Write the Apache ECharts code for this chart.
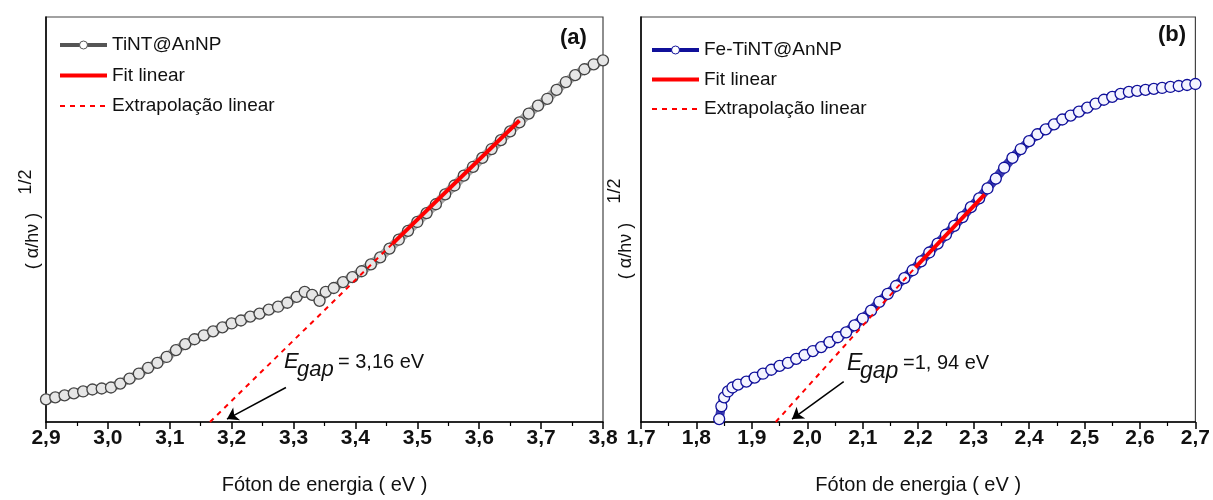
<!DOCTYPE html>
<html><head><meta charset="utf-8">
<script src="https://cdn.jsdelivr.net/npm/echarts@6/dist/echarts.min.js"></script>
<style>html,body{margin:0;padding:0;background:#fff}#c{width:1213px;height:500px}</style>
</head><body><div id="c"></div>
<script>
// ---- Panel (a): TiNT@AnNP ----
const energyA = [2.900,2.915,2.930,2.945,2.960,2.975,2.990,3.005,3.020,3.035,3.050,3.065,3.080,3.095,3.110,3.125,3.140,3.155,3.170,3.185,3.200,3.215,3.230,3.245,3.260,3.275,3.290,3.305,3.318,3.330,3.342,3.352,3.365,3.380,3.395,3.410,3.425,3.440,3.455,3.470,3.485,3.500,3.515,3.530,3.545,3.560,3.575,3.590,3.605,3.620,3.635,3.650,3.665,3.680,3.695,3.710,3.725,3.740,3.755,3.770,3.785,3.800];
const tauc_A = [0.23,0.25,0.27,0.29,0.31,0.33,0.34,0.35,0.39,0.44,0.49,0.55,0.60,0.66,0.73,0.79,0.84,0.88,0.92,0.96,1.00,1.03,1.07,1.10,1.14,1.17,1.21,1.27,1.32,1.29,1.23,1.32,1.36,1.42,1.47,1.53,1.60,1.67,1.76,1.85,1.94,2.03,2.12,2.21,2.31,2.40,2.50,2.59,2.68,2.77,2.86,2.95,3.04,3.13,3.21,3.28,3.37,3.45,3.52,3.58,3.63,3.67];
const fitA_x = [3.46, 3.665];
const fitA_y = [1.81, 3.06];
const extA_x = [3.165, 3.46];
const extA_y = [0.0, 1.81];
const ticksA = ['2,9','3,0','3,1','3,2','3,3','3,4','3,5','3,6','3,7','3,8'];

// ---- Panel (b): Fe-TiNT@AnNP ----
const energyB = [1.841,1.845,1.850,1.857,1.865,1.875,1.890,1.905,1.920,1.935,1.950,1.965,1.980,1.995,2.010,2.025,2.040,2.055,2.070,2.085,2.100,2.115,2.130,2.145,2.160,2.175,2.190,2.205,2.220,2.235,2.250,2.265,2.280,2.295,2.310,2.325,2.340,2.355,2.370,2.385,2.400,2.415,2.430,2.445,2.460,2.475,2.490,2.505,2.520,2.535,2.550,2.565,2.580,2.595,2.610,2.625,2.640,2.655,2.670,2.685,2.700];
const tauc_B = [0.03,0.16,0.25,0.31,0.35,0.38,0.41,0.45,0.49,0.53,0.57,0.60,0.64,0.68,0.72,0.76,0.81,0.86,0.91,0.98,1.05,1.13,1.22,1.30,1.38,1.46,1.54,1.63,1.72,1.81,1.90,1.99,2.08,2.18,2.27,2.37,2.47,2.58,2.68,2.77,2.85,2.92,2.97,3.02,3.07,3.11,3.15,3.19,3.23,3.27,3.30,3.33,3.35,3.36,3.37,3.38,3.39,3.40,3.41,3.42,3.43];
const fitB_x = [2.195, 2.32];
const fitB_y = [1.57, 2.31];
const extB_x = [1.943, 2.195];
const extB_y = [0.0, 1.57];
const ticksB = ['1,7','1,8','1,9','2,0','2,1','2,2','2,3','2,4','2,5','2,6','2,7'];

const zip = (xs, ys) => xs.map((x, i) => [x, ys[i]]);
const FONT = 'Liberation Sans, Arial, sans-serif';

function xAxisFor(idx, mn, mx, labels) {
  return {
    type: 'value', gridIndex: idx, min: mn, max: mx, interval: 0.1,
    name: 'Fóton de energia ( eV )', nameLocation: 'middle', nameGap: 53,
    nameTextStyle: {fontFamily: FONT, fontSize: 20, color: '#111'},
    axisLine: {show: true, lineStyle: {color: '#000', width: 1.5}},
    axisTick: {show: true, inside: false, length: 7, lineStyle: {color: '#000', width: 1.5}},
    minorTick: {show: true, splitNumber: 2, length: 4, lineStyle: {color: '#000', width: 1.2}},
    splitLine: {show: false},
    axisLabel: {margin: 6, fontFamily: FONT, fontSize: 21, fontWeight: 'bold', color: '#111',
      formatter: v => labels[Math.round((v - mn) * 10)] || ''}
  };
}
function yAxisFor(idx) {
  return {
    type: 'value', gridIndex: idx, min: 0, max: 4.11,
    axisLine: {show: true, lineStyle: {color: '#000', width: 1.5}},
    axisTick: {show: false}, axisLabel: {show: false}, splitLine: {show: false}
  };
}
const dataStyle = (edge, band, fill) => ({
  type: 'line', symbol: 'circle', symbolSize: 11, showSymbol: true,
  lineStyle: {color: band, width: 9},
  itemStyle: {color: fill, borderColor: edge, borderWidth: 1.3},
  z: 2, animation: false
});
const arrow = (from, to) => ({
  silent: true, symbol: ['none', 'arrow'], symbolSize: 11, animation: false,
  label: {show: false}, lineStyle: {color: '#000', width: 1.5, type: 'solid'},
  data: [[{coord: from}, {coord: to}]]
});
const legendItems = (dataName, edge) => [
  {name: dataName, lineStyle: {width: 4, color: edge}, itemStyle: {color: '#fff', borderColor: edge, borderWidth: 1}},
  {name: 'Fit linear', lineStyle: {width: 4, color: '#ff0000'}, itemStyle: {opacity: 0}},
  {name: 'Extrapolação linear', itemStyle: {opacity: 0}}
];

const chart = echarts.init(document.getElementById('c'), null, {renderer: 'canvas'});
chart.setOption({
  backgroundColor: '#fff',
  animation: false,
  grid: [
    {left: 46, right: 610, top: 17, bottom: 72, show: true, borderColor: '#444', borderWidth: 1.2},
    {left: 641, right: 14, top: 17, bottom: 72, show: true, borderColor: '#444', borderWidth: 1.2}
  ],
  xAxis: [xAxisFor(0, 2.9, 3.8, ticksA), xAxisFor(1, 1.7, 2.7, ticksB)],
  yAxis: [yAxisFor(0), yAxisFor(1)],
  legend: [
    {orient: 'vertical', left: 53, top: 30, itemWidth: 47, itemHeight: 10, itemGap: 10.5,
     textStyle: {fontFamily: FONT, fontSize: 19, lineHeight: 20, color: '#111'},
     data: legendItems('TiNT@AnNP', '#555'), selectedMode: false},
    {orient: 'vertical', left: 645, top: 35, itemWidth: 47, itemHeight: 10, itemGap: 9.5,
     textStyle: {fontFamily: FONT, fontSize: 19, lineHeight: 20, color: '#111'},
     data: legendItems('Fe-TiNT@AnNP', '#10109a'), selectedMode: false}
  ],
  series: [
    Object.assign(dataStyle('#444', '#a8a8a8', '#e6e6e6'), {name: 'TiNT@AnNP', xAxisIndex: 0, yAxisIndex: 0, data: zip(energyA, tauc_A)}),
    {name: 'Extrapolação linear', type: 'line', xAxisIndex: 0, yAxisIndex: 0, symbol: 'none', z: 4,
     itemStyle: {color: '#ff0000'},
     lineStyle: {color: '#ff0000', width: 2, type: [5, 5]}, data: zip(extA_x, extA_y),
     markLine: arrow([3.2877, 0.35], [3.1924, 0.03])},
    {name: 'Fit linear', type: 'line', xAxisIndex: 0, yAxisIndex: 0, symbol: 'none', z: 5,
     itemStyle: {color: '#ff0000'},
     lineStyle: {color: '#ff0000', width: 4}, data: zip(fitA_x, fitA_y)},

    Object.assign(dataStyle('#10109a', '#3a3ab0', '#f4f4ff'), {name: 'Fe-TiNT@AnNP', xAxisIndex: 1, yAxisIndex: 1, data: zip(energyB, tauc_B)}),
    {name: 'Extrapolação linear', type: 'line', xAxisIndex: 1, yAxisIndex: 1, symbol: 'none', z: 4,
     itemStyle: {color: '#ff0000'},
     lineStyle: {color: '#ff0000', width: 2, type: [5, 5]}, data: zip(extB_x, extB_y),
     markLine: arrow([2.0656, 0.41], [1.9724, 0.03])},
    {name: 'Fit linear', type: 'line', xAxisIndex: 1, yAxisIndex: 1, symbol: 'none', z: 5,
     itemStyle: {color: '#ff0000'},
     lineStyle: {color: '#ff0000', width: 4}, data: zip(fitB_x, fitB_y)}
  ],
  graphic: [
    {type: 'text', left: 560, top: 27, style: {text: '(a)', font: 'bold 22px ' + FONT, fill: '#111'}},
    {type: 'text', left: 1158, top: 24, style: {text: '(b)', font: 'bold 22px ' + FONT, fill: '#111'}},
    {type: 'text', x: 33, y: 241, rotation: Math.PI / 2, style: {text: '( α/hν )', font: '18px ' + FONT, fill: '#111', align: 'center', verticalAlign: 'middle'}},
    {type: 'text', x: 26, y: 182, rotation: Math.PI / 2, style: {text: '1/2', font: '18px ' + FONT, fill: '#111', align: 'center', verticalAlign: 'middle'}},
    {type: 'text', x: 626, y: 251, rotation: Math.PI / 2, style: {text: '( α/hν )', font: '18px ' + FONT, fill: '#111', align: 'center', verticalAlign: 'middle'}},
    {type: 'text', x: 615, y: 191, rotation: Math.PI / 2, style: {text: '1/2', font: '18px ' + FONT, fill: '#111', align: 'center', verticalAlign: 'middle'}},
    {type: 'text', left: 284, top: 351, style: {text: 'E', font: 'italic 22px ' + FONT, fill: '#111'}},
    {type: 'text', left: 297, top: 359, style: {text: 'gap', font: 'italic 22px ' + FONT, fill: '#111'}},
    {type: 'text', left: 338, top: 352, style: {text: '= 3,16 eV', font: '20px ' + FONT, fill: '#111'}},
    {type: 'text', left: 847, top: 352, style: {text: 'E', font: 'italic 23px ' + FONT, fill: '#111'}},
    {type: 'text', left: 860, top: 360, style: {text: 'gap', font: 'italic 23px ' + FONT, fill: '#111'}},
    {type: 'text', left: 903, top: 353, style: {text: '=1, 94 eV', font: '20px ' + FONT, fill: '#111'}}
  ]
});
</script></body></html>
